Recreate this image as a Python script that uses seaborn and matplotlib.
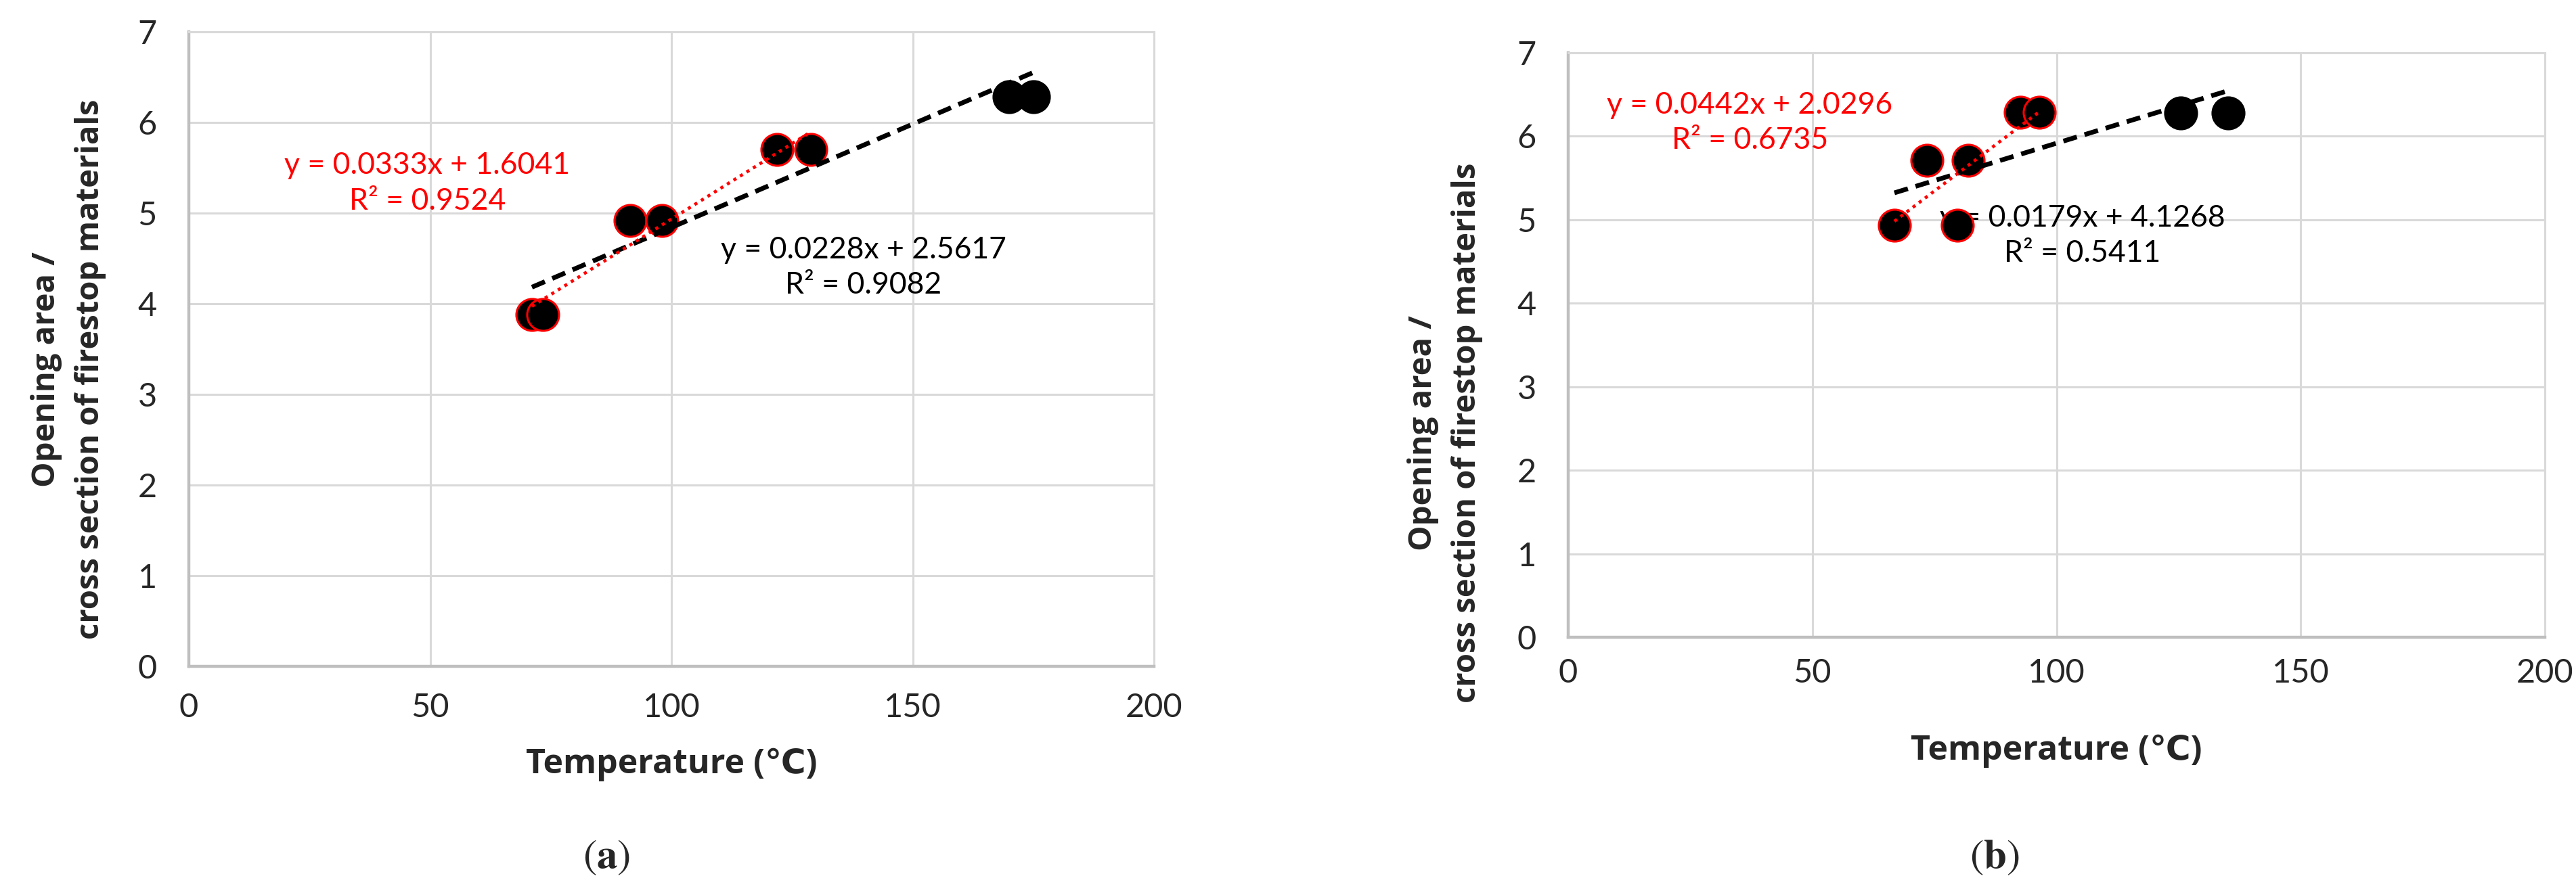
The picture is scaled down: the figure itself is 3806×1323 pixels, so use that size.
import matplotlib
matplotlib.use('Agg')
import matplotlib.pyplot as plt
import numpy as np
import seaborn as sns

# panel (a): points whose markers carry a red edge, and the remaining black ones
a_red_x = [71.1, 73.4, 91.4, 98.0, 121.9, 128.9]
a_red_y = [3.88, 3.88, 4.92, 4.92, 5.70, 5.70]
a_blk_x = [170.0, 175.0]
a_blk_y = [6.28, 6.28]
a_fit_all = (0.0228, 2.5617, 0.9082)
a_fit_red = (0.0333, 1.6041, 0.9524)

# panel (b)
b_red_x = [66.8, 73.5, 79.7, 81.9, 92.6, 96.5]
b_red_y = [4.93, 5.71, 4.93, 5.71, 6.29, 6.29]
b_blk_x = [125.4, 135.1]
b_blk_y = [6.28, 6.28]
b_fit_all = (0.0179, 4.1268, 0.5411)
b_fit_red = (0.0442, 2.0296, 0.6735)

x_ticks = [0, 50, 100, 150, 200]
y_ticks = [0, 1, 2, 3, 4, 5, 6, 7]
panel_tags = ['a', 'b']

RED = '#ff0000'
GRID = '#d9d9d9'
AXIS = '#bfbfbf'
LABEL_FONT = ['Open Sans', 'DejaVu Sans']

sns.set_theme(style='whitegrid')
plt.rcParams['font.family'] = ['Lato', 'DejaVu Sans']
plt.rcParams['mathtext.fontset'] = 'stix'

W, H = 3806, 1323
fig = plt.figure(figsize=(W / 100, H / 100), dpi=100)
ax1 = fig.add_axes([279 / W, 1 - 985 / H, 1426 / W, 938 / H])
ax2 = fig.add_axes([2317 / W, 1 - 942 / H, 1443 / W, 864 / H])


def eq_text(fit):
    return f'y = {fit[0]:.4f}x + {fit[1]:.4f}\nR² = {fit[2]:.4f}'


def draw_panel(ax, red_x, red_y, blk_x, blk_y, fit_all, fit_red,
               red_pos, blk_pos, xpad, xlab_y, ylab_x, ylab_y):
    all_x = np.array(red_x + blk_x)
    # markers
    sns.scatterplot(x=red_x, y=red_y, ax=ax, color='black', edgecolor=RED,
                    linewidth=2.2, s=1150, zorder=3, legend=False)
    sns.scatterplot(x=blk_x, y=blk_y, ax=ax, color='black', edgecolor='black',
                    linewidth=2.2, s=1150, zorder=3, legend=False)
    # linear trend lines over each series' range
    xa = np.array([all_x.min(), all_x.max()])
    ax.plot(xa, fit_all[0] * xa + fit_all[1], color='black', lw=5,
            ls=(0, (3.0, 1.7)), zorder=4)
    xr = np.array([min(red_x), max(red_x)])
    ax.plot(xr, fit_red[0] * xr + fit_red[1], color=RED, lw=3.4,
            ls=(0, (1, 1.4)), zorder=4)
    # equations
    ax.text(red_pos[0], red_pos[1], eq_text(fit_red), color=RED, fontsize=32,
            ha='center', va='center', linespacing=1.35, zorder=2)
    ax.text(blk_pos[0], blk_pos[1], eq_text(fit_all), color='black', fontsize=32,
            ha='center', va='center', linespacing=1.35, zorder=2)

    ax.set_xlim(0, 200)
    ax.set_ylim(0, 7)
    ax.set_xticks(x_ticks)
    ax.set_yticks(y_ticks)
    ax.grid(True, color=GRID, lw=2.2)
    for side in ['left', 'bottom']:
        ax.spines[side].set_color(AXIS)
        ax.spines[side].set_linewidth(3.2)
    for side in ['top', 'right']:
        ax.spines[side].set_color(GRID)
        ax.spines[side].set_linewidth(2.2)
    ax.tick_params(axis='both', length=0, labelsize=35, labelcolor='#262626')
    ax.tick_params(axis='y', pad=34)
    ax.tick_params(axis='x', pad=xpad)

    ax.set_xlabel('Temperature (℃)', family=LABEL_FONT, fontsize=36,
                  fontweight='bold', va='center')
    ax.xaxis.set_label_coords(0.5, xlab_y)
    ax.set_ylabel('Opening area /\ncross section of firestop materials',
                  family=LABEL_FONT, fontsize=34, fontweight='bold',
                  va='center', ha='center', linespacing=1.5)
    ax.yaxis.set_label_coords(ylab_x, ylab_y)


draw_panel(ax1, a_red_x, a_red_y, a_blk_x, a_blk_y, a_fit_all, a_fit_red,
           red_pos=(49.4, 5.33), blk_pos=(139.8, 4.40),
           xpad=28, xlab_y=-0.1546, ylab_x=-0.1248, ylab_y=0.468)
draw_panel(ax2, b_red_x, b_red_y, b_blk_x, b_blk_y, b_fit_all, b_fit_red,
           red_pos=(37.2, 6.16), blk_pos=(105.3, 4.81),
           xpad=22, xlab_y=-0.1944, ylab_x=-0.1261, ylab_y=0.3495)

fig.text(896 / W, 1 - 1268 / H, r'$(\mathbf{%s})$' % panel_tags[0], fontsize=44,
         ha='center', va='center')
fig.text(2947 / W, 1 - 1267 / H, r'$(\mathbf{%s})$' % panel_tags[1], fontsize=44,
         ha='center', va='center')

fig.savefig('out.png', dpi=100, facecolor='white')
